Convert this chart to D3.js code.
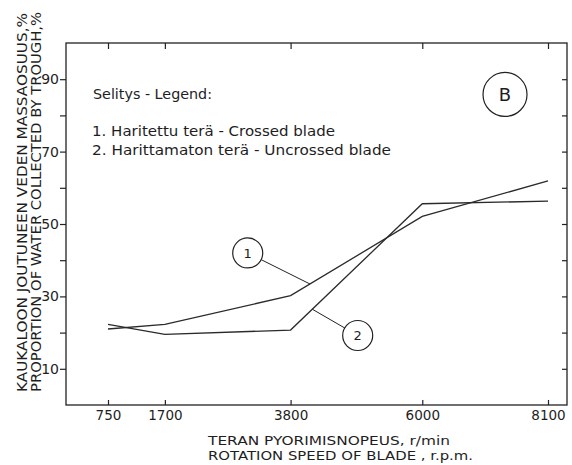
<!DOCTYPE html>
<html>
<head>
<meta charset="utf-8">
<script src="https://cdn.jsdelivr.net/npm/d3@7"></script>
<style>
  body { margin: 0; background: #fff; }
  svg text { font-family: "DejaVu Sans", sans-serif; fill: #1e1e1e; }
</style>
</head>
<body>
<svg id="main-chart-svg" width="572" height="465"></svg>
<script>
// values
const rpm = [750, 1700, 3800, 6000, 8100];
const crossed = [21.0, 22.3, 30.2, 52.1, 61.9];     // 1. Haritettu terä
const uncrossed = [22.3, 19.5, 20.7, 55.6, 56.3];   // 2. Harittamaton terä
const yLabelTicks = [10, 30, 50, 70, 90];
const yMinorTicks = [20, 40, 60, 80];
const yRightTicks = [10, 20, 30, 40, 50, 60, 70, 80, 90];
const legendTitle = "Selitys - Legend:";
const legendItems = ["1. Haritettu terä - Crossed blade", "2. Harittamaton terä - Uncrossed blade"];
const xTitle = ["TERAN  PYORIMISNOPEUS, r/min", "ROTATION  SPEED  OF  BLADE , r.p.m."];
const yTitle = ["KAUKALOON  JOUTUNEEN  VEDEN  MASSAOSUUS,%", "PROPORTION  OF  WATER  COLLECTED  BY  TROUGH,%"];

const svg = d3.select("#main-chart-svg");
const ink = "#222";

const frameLeft = 66, frameRight = 567, frameTop = 43, frameBottom = 405;

let xScale = d3.scaleLinear().domain([750, 8100]).range([108, 548]);
let yScale = d3.scaleLinear().domain([0, 100]).range([frameBottom, frameTop]);

// frame
svg.append("rect")
  .attr("x", frameLeft).attr("y", frameTop)
  .attr("width", frameRight - frameLeft).attr("height", frameBottom - frameTop)
  .attr("fill", "none").attr("stroke", ink).attr("stroke-width", 1.3);

function styleAxis(g) {
  g.select(".domain").remove();
  g.selectAll("line").attr("stroke", ink).attr("stroke-width", 1.2);
  g.selectAll("text").attr("fill", "#1e1e1e").style("font-family", "DejaVu Sans, sans-serif");
}

// left axis, labelled
svg.append("g").attr("transform", `translate(${frameLeft},0)`)
  .call(d3.axisLeft(yScale).tickValues(yLabelTicks).tickSize(6).tickPadding(1)
    .tickFormat(d3.format("d")))
  .call(styleAxis)
  .selectAll("text").style("font-size", "14px");

svg.append("g").attr("transform", `translate(${frameLeft},0)`)
  .call(d3.axisLeft(yScale).tickValues(yMinorTicks).tickSize(6).tickFormat(""))
  .call(styleAxis);

// right axis, inward ticks
svg.append("g").attr("transform", `translate(${frameRight},0)`)
  .call(d3.axisLeft(yScale).tickValues(yRightTicks).tickSize(5).tickFormat(""))
  .call(styleAxis);

// bottom axis, inward ticks
svg.append("g").attr("transform", `translate(0,${frameBottom})`)
  .call(d3.axisBottom(xScale).tickValues(rpm).tickSizeInner(-5).tickSizeOuter(0)
    .tickPadding(5).tickFormat(d3.format("d")))
  .call(styleAxis)
  .selectAll("text").style("font-size", "13.5px");

// top axis, inward ticks
svg.append("g").attr("transform", `translate(0,${frameTop})`)
  .call(d3.axisTop(xScale).tickValues(rpm).tickSize(-6).tickFormat(""))
  .call(styleAxis);

// lines
let line = d3.line().x(d => xScale(d[0])).y(d => yScale(d[1]));
[crossed, uncrossed].forEach(series => {
  svg.append("path")
    .datum(rpm.map((r, i) => [r, series[i]]))
    .attr("d", line)
    .attr("fill", "none")
    .attr("stroke", "#2a2a2a")
    .attr("stroke-width", 1.3);
});

// numbered call-outs
function valueAt(series, r) {
  let i = d3.bisectRight(rpm, r) - 1;
  let t = (r - rpm[i]) / (rpm[i + 1] - rpm[i]);
  return series[i] + t * (series[i + 1] - series[i]);
}
const callouts = [
  { label: "1", at: [3084, 42.0], series: crossed, target: 4124 },
  { label: "2", at: [4921, 19.2], series: uncrossed, target: 4163 }
];
callouts.forEach(c => {
  let cx = xScale(c.at[0]), cy = yScale(c.at[1]), r = 15;
  let tx = xScale(c.target), ty = yScale(valueAt(c.series, c.target));
  let a = Math.atan2(ty - cy, tx - cx);
  svg.append("line")
    .attr("x1", cx + r * Math.cos(a)).attr("y1", cy + r * Math.sin(a))
    .attr("x2", tx).attr("y2", ty)
    .attr("stroke", ink).attr("stroke-width", 1);
  svg.append("circle").attr("cx", cx).attr("cy", cy).attr("r", r)
    .attr("fill", "none").attr("stroke", ink).attr("stroke-width", 1.2);
  svg.append("text").attr("x", cx).attr("y", cy + 5)
    .attr("text-anchor", "middle").style("font-size", "13px").text(c.label);
});

// panel mark B
svg.append("circle").attr("cx", xScale(7382)).attr("cy", yScale(85.8)).attr("r", 22)
  .attr("fill", "none").attr("stroke", ink).attr("stroke-width", 1.2);
svg.append("text").attr("x", xScale(7382)).attr("y", yScale(85.8) + 6.5)
  .attr("text-anchor", "middle").style("font-size", "18px").text("B");

// legend text
svg.append("text").attr("x", 93).attr("y", 99)
  .attr("textLength", 119).attr("lengthAdjust", "spacingAndGlyphs")
  .style("font-size", "14px").text(legendTitle);
const legendRows = [{ y: 136, len: 243 }, { y: 155, len: 299 }];
legendItems.forEach((t, i) => {
  svg.append("text").attr("x", 92).attr("y", legendRows[i].y)
    .attr("textLength", legendRows[i].len).attr("lengthAdjust", "spacingAndGlyphs")
    .style("font-size", "14px").text(t);
});

// x axis title
const xTitleRows = [{ y: 445, len: 242 }, { y: 460, len: 265 }];
xTitle.forEach((t, i) => {
  svg.append("text").attr("x", 208).attr("y", xTitleRows[i].y)
    .attr("textLength", xTitleRows[i].len).attr("lengthAdjust", "spacingAndGlyphs")
    .style("font-size", "12.5px").text(t);
});

// y axis title
const yTitleRows = [{ x: 27, len: 379 }, { x: 41, len: 380 }];
yTitle.forEach((t, i) => {
  svg.append("text")
    .attr("transform", `translate(${yTitleRows[i].x},392) rotate(-90)`)
    .attr("x", 0).attr("y", 0)
    .attr("textLength", yTitleRows[i].len).attr("lengthAdjust", "spacingAndGlyphs")
    .style("font-size", "14.5px").text(t);
});
</script>
</body>
</html>
